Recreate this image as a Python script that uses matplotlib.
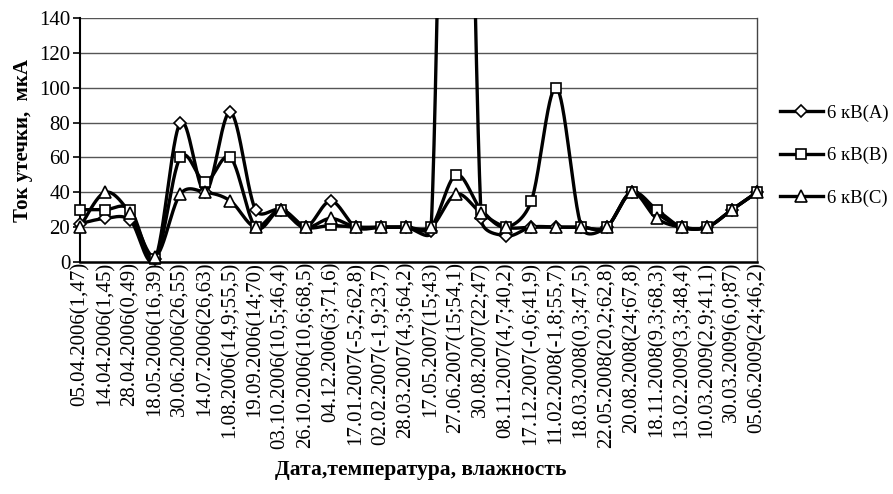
import numpy as np
import matplotlib
matplotlib.use("Agg")
import matplotlib.pyplot as plt
from matplotlib.lines import Line2D

labels = [
    "05.04.2006(1,47)", "14.04.2006(1,45)", "28.04.2006(0,49)", "18.05.2006(16,39)",
    "30.06.2006(26,55)", "14.07.2006(26,63)", "1.08.2006(14,9;55,5)", "19.09.2006(14;70)",
    "03.10.2006(10,5;46,4)", "26.10.2006(10,6;68,5)", "04.12.2006(3;71,6)", "17.01.2007(-5,2;62,8)",
    "02.02.2007(-1,9;23,7)", "28.03.2007(4,3;64,2)", "17.05.2007(15;43)", "27.06.2007(15;54,1)",
    "30.08.2007(22;47)", "08.11.2007(4,7;40,2)", "17.12.2007(-0,6;41,9)", "11.02.2008(-1,8;55,7)",
    "18.03.2008(0,3;47,5)", "22.05.2008(20,2;62,8)", "20.08.2008(24;67,8)", "18.11.2008(9,3;68,3)",
    "13.02.2009(3,3;48,4)", "10.03.2009(2,9;41,1)", "30.03.2009(6,0;87)", "05.06.2009(24;46,2)",
]
series_A = [22, 25, 24, 2, 80, 40, 86, 30, 30, 20, 35, 20, 20, 20, 18, 600, 25, 15, 20, 20, 20, 20, 40, 28, 20, 20, 30, 40]
series_B = [30, 30, 30, 2, 60, 46, 60, 20, 30, 20, 21, 20, 20, 20, 20, 50, 30, 20, 35, 100, 20, 20, 40, 30, 20, 20, 30, 40]
series_C = [20, 40, 28, 3, 39, 40, 35, 20, 30, 20, 25, 20, 20, 20, 20, 39, 28, 20, 20, 20, 20, 20, 40, 25, 20, 20, 30, 40]
names = ["6 кВ(А)", "6 кВ(В)", "6 кВ(С)"]
markers = ["D", "s", "^"]
msizes = [6.5, 7, 8.5]

SERIF = ["Liberation Serif", "DejaVu Serif"]
plt.rcParams["font.family"] = SERIF

W, H = 893, 494
fig = plt.figure(figsize=(W / 100, H / 100), dpi=100)
L, R, T, B = 80, 757, 18, 262
ax = fig.add_axes([L / W, 1 - B / H, (R - L) / W, (B - T) / H])

n = len(labels)
x = np.arange(n)
ax.set_xlim(0, n - 1)
ax.set_ylim(0, 140)

# pixel scales for Excel-like smoothing
sx = (R - L) / (n - 1)
sy = (B - T) / 140.0


def smooth(xs, ys, k=0.5, m=60):
    P = np.column_stack([np.asarray(xs, float) * sx, np.asarray(ys, float) * sy])
    N = len(P)
    pts = [P[0]]
    for i in range(N - 1):
        p0, p1 = P[i], P[i + 1]
        d = np.linalg.norm(p1 - p0)
        prev = P[i - 1] if i > 0 else p0
        nxt = P[i + 2] if i + 2 < N else p1
        v0 = (p1 - prev) / 6.0
        v1 = (nxt - p0) / 6.0
        for v in (v0, v1):
            ln = np.linalg.norm(v)
            if ln > k * d:
                v *= k * d / ln
        c1 = p0 + v0
        c2 = p1 - v1
        t = np.linspace(0, 1, m)[1:, None]
        bz = (1 - t) ** 3 * p0 + 3 * (1 - t) ** 2 * t * c1 + 3 * (1 - t) * t ** 2 * c2 + t ** 3 * p1
        pts.extend(bz)
    pts = np.array(pts)
    return pts[:, 0] / sx, pts[:, 1] / sy


for i in range(20, 141, 20):
    ax.axhline(i, color="#555555", lw=1.0, zorder=1)

for ys, mk, ms in zip([series_A, series_B, series_C], markers, msizes):
    cx, cy = smooth(x, ys)
    ax.plot(cx, cy, color="black", lw=2.4, zorder=3, solid_capstyle="butt")
    ys = np.asarray(ys, float)
    vis = ys <= 140
    ax.plot(x[vis], ys[vis], ls="none", marker=mk, ms=ms, mfc="white", mec="black",
            mew=1.2, zorder=4, clip_on=False)

ax.spines["top"].set_visible(False)
ax.spines["right"].set_color("#444444")
ax.spines["right"].set_linewidth(1.0)
ax.spines["left"].set_linewidth(1.5)
ax.spines["bottom"].set_linewidth(1.8)

ax.set_yticks(range(0, 141, 20))
ax.tick_params(axis="y", labelsize=15, length=5, width=1.2, pad=2)
ax.set_xticks(x)
ax.set_xticklabels(labels, rotation=90, fontsize=15, va="top", ha="center")
ax.tick_params(axis="x", length=0, pad=0)

ax.set_ylabel("Ток утечки,  мкА", fontsize=15, fontweight="bold", labelpad=4)
fig.text(421 / W, 1 - 470 / H, "Дата,температура, влажность", fontsize=15.5,
         fontweight="bold", ha="center", va="center")

handles = [Line2D([0], [0], color="black", lw=2.4, marker=mk, ms=ms, mfc="white",
                  mec="black", mew=1.2) for mk, ms in zip(markers, msizes)]
fig.legend(handles, names, loc="upper left", bbox_to_anchor=(772 / W, 1 - 97 / H),
           frameon=False, fontsize=13.5, handlelength=2.3, handletextpad=0.25,
           labelspacing=1.35, borderaxespad=0)

fig.savefig("out.png", dpi=100)
